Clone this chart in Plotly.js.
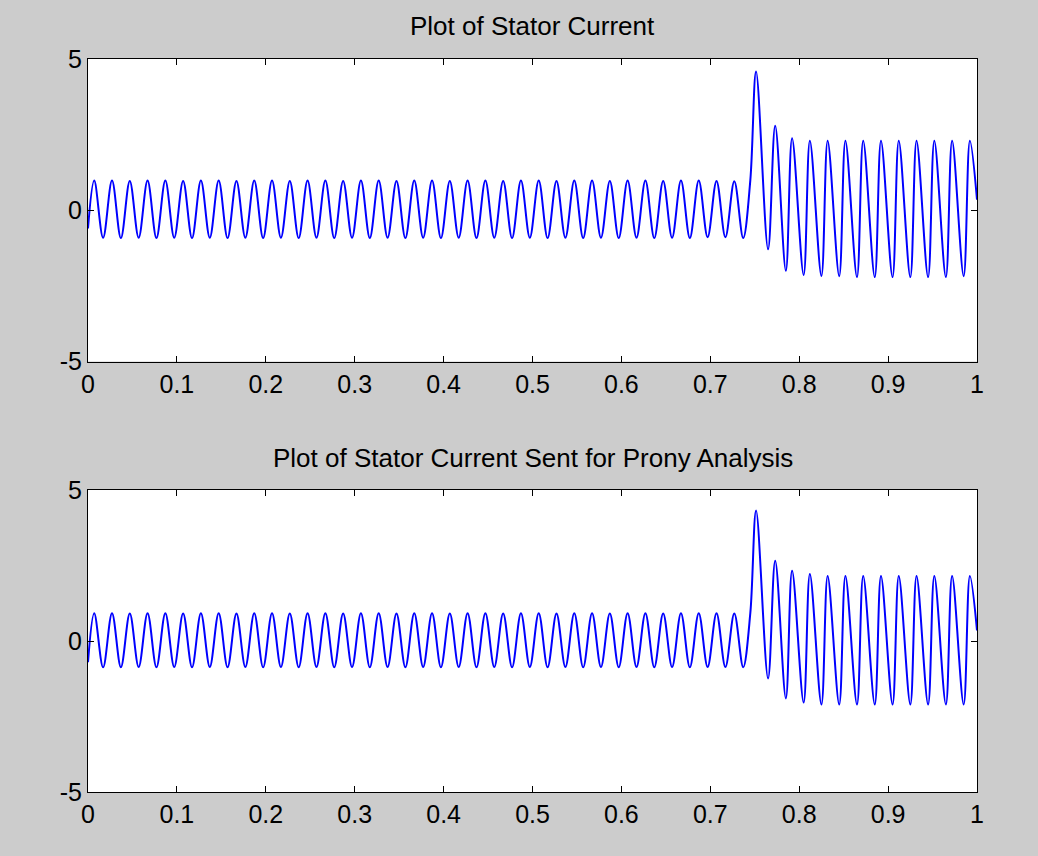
<!DOCTYPE html>
<html>
<head>
<meta charset="utf-8">
<script src="https://cdn.plot.ly/plotly-3.0.1.min.js"></script>
<style>
  html, body { margin: 0; padding: 0; background: #cccccc; }
  #chart { width: 1038px; height: 856px; }
</style>
</head>
<body>
<div id="chart"></div>
<script>
// Times (s) of the extrema (shared by both panels)
const timeS = [
  0,
  0.007, 0.017, 0.027, 0.037, 0.047, 0.057, 0.067, 0.077, 0.087, 0.097,
  0.107, 0.117, 0.127, 0.137, 0.147, 0.157, 0.167, 0.177, 0.187, 0.197,
  0.207, 0.217, 0.227, 0.237, 0.247, 0.257, 0.267, 0.277, 0.287, 0.297,
  0.307, 0.317, 0.327, 0.337, 0.347, 0.357, 0.367, 0.377, 0.387, 0.397,
  0.407, 0.417, 0.427, 0.437, 0.447, 0.457, 0.467, 0.477, 0.487, 0.497,
  0.507, 0.517, 0.527, 0.537, 0.547, 0.557, 0.567, 0.577, 0.587, 0.597,
  0.607, 0.617, 0.627, 0.637, 0.647, 0.657, 0.667, 0.677, 0.687, 0.697,
  0.707, 0.717, 0.727, 0.737,
  0.745, 0.7515, 0.765,
  0.773, 0.785, 0.792, 0.805, 0.812, 0.825, 0.832, 0.845, 0.852, 0.865,
  0.872, 0.885, 0.892, 0.905, 0.912, 0.925, 0.932, 0.945, 0.952, 0.965,
  0.972, 0.985, 0.992, 1.0
];

// Stator current (top panel)
const statorCurrent = [
  -0.6,
  0.98, -0.91, 0.98, -0.92, 0.97, -0.91, 0.98, -0.92, 0.98, -0.91,
  0.97, -0.92, 0.98, -0.91, 0.98, -0.92, 0.97, -0.91, 0.98, -0.92,
  0.98, -0.91, 0.97, -0.92, 0.98, -0.91, 0.98, -0.92, 0.97, -0.91,
  0.98, -0.92, 0.98, -0.91, 0.97, -0.92, 0.98, -0.91, 0.98, -0.92,
  0.97, -0.91, 0.98, -0.92, 0.98, -0.91, 0.97, -0.92, 0.98, -0.91,
  0.98, -0.92, 0.97, -0.91, 0.98, -0.92, 0.98, -0.91, 0.97, -0.92,
  0.98, -0.91, 0.98, -0.92, 0.97, -0.91, 0.98, -0.92, 0.98, -0.89,
  0.97, -0.89, 0.96, -0.92,
  0.99, 4.59, -1.29,
  2.79, -2.00, 2.38, -2.14, 2.30, -2.17, 2.30, -2.18, 2.30, -2.21,
  2.30, -2.21, 2.30, -2.21, 2.30, -2.21, 2.30, -2.21, 2.30, -2.21,
  2.30, -2.18, 2.30, 0.35
];

// Stator current sent for Prony analysis (bottom panel)
const pronyCurrent = [
  -0.7,
  0.92, -0.87, 0.92, -0.87, 0.91, -0.86, 0.92, -0.87, 0.92, -0.86,
  0.91, -0.87, 0.92, -0.86, 0.92, -0.87, 0.91, -0.86, 0.92, -0.87,
  0.92, -0.86, 0.91, -0.87, 0.92, -0.86, 0.92, -0.87, 0.91, -0.86,
  0.92, -0.87, 0.92, -0.86, 0.91, -0.87, 0.92, -0.86, 0.92, -0.87,
  0.91, -0.86, 0.92, -0.87, 0.92, -0.86, 0.91, -0.87, 0.92, -0.86,
  0.92, -0.87, 0.91, -0.86, 0.92, -0.87, 0.92, -0.86, 0.91, -0.87,
  0.92, -0.86, 0.92, -0.87, 0.91, -0.86, 0.92, -0.87, 0.92, -0.86,
  0.92, -0.86, 0.91, -0.87,
  0.92, 4.32, -1.24,
  2.66, -1.90, 2.33, -2.04, 2.22, -2.10, 2.15, -2.10, 2.15, -2.10,
  2.15, -2.10, 2.15, -2.10, 2.15, -2.10, 2.15, -2.10, 2.15, -2.10,
  2.15, -2.10, 2.15, 0.35
];

const panelTitles = ["Plot of Stator Current", "Plot of Stator Current Sent for Prony Analysis"];
const xTickValues = [0, 0.1, 0.2, 0.3, 0.4, 0.5, 0.6, 0.7, 0.8, 0.9, 1];
const xTickLabels = ["0", "0.1", "0.2", "0.3", "0.4", "0.5", "0.6", "0.7", "0.8", "0.9", "1"];
const yTickValues = [-5, 0, 5];
const yTickLabels = ["-5", "0", "5"];

const fontFamily = "Liberation Sans, Arial, sans-serif";
const lineStyle = { color: "#0000ff", width: 2, shape: "spline", smoothing: 1 };

const traces = [
  { x: timeS, y: statorCurrent, type: "scatter", mode: "lines", line: lineStyle, xaxis: "x", yaxis: "y", hoverinfo: "skip" },
  { x: timeS, y: pronyCurrent, type: "scatter", mode: "lines", line: lineStyle, xaxis: "x2", yaxis: "y2", hoverinfo: "skip" }
];

function xAxis(anchor) {
  return {
    anchor: anchor, domain: [0, 1], range: [0, 1],
    tickmode: "array", tickvals: xTickValues, ticktext: xTickLabels,
    ticks: "inside", ticklen: 6, tickwidth: 1, tickcolor: "#000",
    showline: true, linecolor: "#000", linewidth: 1, mirror: "ticks",
    showgrid: false, zeroline: false,
    tickfont: { family: fontFamily, size: 25, color: "#000" }
  };
}
function yAxis(anchor, domain) {
  return {
    anchor: anchor, domain: domain, range: [-5, 5],
    tickmode: "array", tickvals: yTickValues, ticktext: yTickLabels,
    ticks: "inside", ticklen: 6, tickwidth: 1, tickcolor: "#000",
    showline: true, linecolor: "#000", linewidth: 1, mirror: "ticks",
    showgrid: false, zeroline: false,
    tickfont: { family: fontFamily, size: 25, color: "#000" }
  };
}

const layout = {
  width: 1038, height: 856,
  paper_bgcolor: "#cccccc", plot_bgcolor: "#ffffff",
  margin: { l: 88, r: 61, t: 59, b: 64, pad: 0 },
  showlegend: false,
  xaxis: xAxis("y"),
  yaxis: yAxis("x", [0.5873, 1]),
  xaxis2: xAxis("y2"),
  yaxis2: yAxis("x2", [0, 0.412]),
  annotations: [
    { text: panelTitles[0], xref: "paper", yref: "paper", x: 0.5, y: 1.045, xanchor: "center", yanchor: "middle",
      showarrow: false, font: { family: fontFamily, size: 26, color: "#000" } },
    { text: panelTitles[1], xref: "paper", yref: "paper", x: 0.5, y: 0.4557, xanchor: "center", yanchor: "middle",
      showarrow: false, font: { family: fontFamily, size: 26, color: "#000" } }
  ]
};

Plotly.newPlot("chart", traces, layout, { displayModeBar: false, staticPlot: true });
</script>
</body>
</html>
